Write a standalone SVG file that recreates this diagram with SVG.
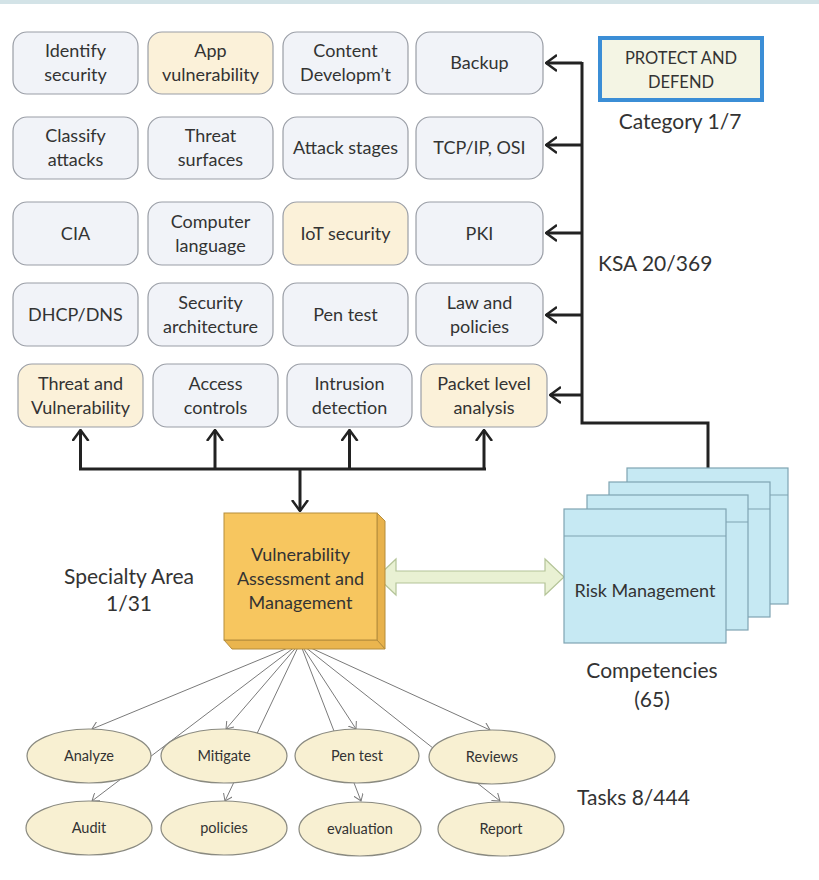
<svg xmlns="http://www.w3.org/2000/svg" width="819" height="880" viewBox="0 0 819 880">
<style>
text{font-family:Lato,"Open Sans","Liberation Sans",sans-serif;fill:#333;text-anchor:middle}
.b{font-size:18px}
.box{fill:#f1f3f8;stroke:#9a9ea6;stroke-width:1.2}
.ybox{fill:#fbf1d9;stroke:#9a9ea6;stroke-width:1.2}
.thick{fill:none;stroke:#222;stroke-width:3}
.thin{fill:none;stroke:#7a7a7a;stroke-width:1}
.ell{fill:#f8f0d2;stroke:#8a8a80;stroke-width:1.2}
.t{font-size:14.5px}
.lab{font-size:21px;fill:#333}
.card{fill:#c6e9f3;stroke:#7fa4b2;stroke-width:1.2}
</style>
<defs>
<marker id="ah" viewBox="0 0 12 18" refX="11" refY="9" markerWidth="12" markerHeight="18" orient="auto" markerUnits="userSpaceOnUse">
<path d="M0,1 L11,9 L0,17" fill="none" stroke="#222" stroke-width="2.5"/>
</marker>
<marker id="sh" viewBox="0 0 8 10" refX="7" refY="5" markerWidth="8" markerHeight="10" orient="auto" markerUnits="userSpaceOnUse">
<path d="M0,0 L7,5 L0,10" fill="none" stroke="#7a7a7a" stroke-width="1"/>
</marker>
</defs>
<rect x="0" y="0" width="819" height="4" fill="#d3e3e7"/>

<g id="n-identify"><rect class="box" x="13" y="32" width="125" height="62" rx="14"/><text class="b" x="75.5" y="57">Identify</text><text class="b" x="75.5" y="81">security</text></g>
<g id="n-app"><rect class="ybox" x="148" y="32" width="125" height="62" rx="14"/><text class="b" x="210.5" y="57">App</text><text class="b" x="210.5" y="81">vulnerability</text></g>
<g id="n-content"><rect class="box" x="283" y="32" width="125" height="62" rx="14"/><text class="b" x="345.5" y="57">Content</text><text class="b" x="345.5" y="81">Developm’t</text></g>
<g id="n-backup"><rect class="box" x="416" y="32" width="127" height="62" rx="14"/><text class="b" x="479.5" y="69">Backup</text></g>

<g id="n-classify"><rect class="box" x="13" y="117" width="125" height="62" rx="14"/><text class="b" x="75.5" y="142">Classify</text><text class="b" x="75.5" y="166">attacks</text></g>
<g id="n-threat"><rect class="box" x="148" y="117" width="125" height="62" rx="14"/><text class="b" x="210.5" y="142">Threat</text><text class="b" x="210.5" y="166">surfaces</text></g>
<g id="n-attack"><rect class="box" x="283" y="117" width="125" height="62" rx="14"/><text class="b" x="345.5" y="154">Attack stages</text></g>
<g id="n-tcp"><rect class="box" x="416" y="117" width="127" height="62" rx="14"/><text class="b" x="479.5" y="154">TCP/IP, OSI</text></g>

<g id="n-cia"><rect class="box" x="13" y="202" width="125" height="63" rx="14"/><text class="b" x="75.5" y="240">CIA</text></g>
<g id="n-lang"><rect class="box" x="148" y="202" width="125" height="63" rx="14"/><text class="b" x="210.5" y="228">Computer</text><text class="b" x="210.5" y="252">language</text></g>
<g id="n-iot"><rect class="ybox" x="283" y="202" width="125" height="63" rx="14"/><text class="b" x="345.5" y="240">IoT security</text></g>
<g id="n-pki"><rect class="box" x="416" y="202" width="127" height="63" rx="14"/><text class="b" x="479.5" y="240">PKI</text></g>

<g id="n-dhcp"><rect class="box" x="13" y="283" width="125" height="63" rx="14"/><text class="b" x="75.5" y="321">DHCP/DNS</text></g>
<g id="n-secarch"><rect class="box" x="148" y="283" width="125" height="63" rx="14"/><text class="b" x="210.5" y="309">Security</text><text class="b" x="210.5" y="333">architecture</text></g>
<g id="n-pen"><rect class="box" x="283" y="283" width="125" height="63" rx="14"/><text class="b" x="345.5" y="321">Pen test</text></g>
<g id="n-law"><rect class="box" x="416" y="283" width="127" height="63" rx="14"/><text class="b" x="479.5" y="309">Law and</text><text class="b" x="479.5" y="333">policies</text></g>

<g id="n-tv"><rect class="ybox" x="18" y="364" width="125" height="63" rx="14"/><text class="b" x="80.5" y="390">Threat and</text><text class="b" x="80.5" y="414">Vulnerability</text></g>
<g id="n-access"><rect class="box" x="153" y="364" width="125" height="63" rx="14"/><text class="b" x="215.5" y="390">Access</text><text class="b" x="215.5" y="414">controls</text></g>
<g id="n-intrusion"><rect class="box" x="287" y="364" width="125" height="63" rx="14"/><text class="b" x="349.5" y="390">Intrusion</text><text class="b" x="349.5" y="414">detection</text></g>
<g id="n-packet"><rect class="ybox" x="421" y="364" width="126" height="63" rx="14"/><text class="b" x="484" y="390">Packet level</text><text class="b" x="484" y="414">analysis</text></g>

<g id="n-protect"><rect x="600" y="38" width="162" height="62" fill="#f4f5e4" stroke="#3b8ed6" stroke-width="4"/><text x="681" y="64" style="font-size:16.5px">PROTECT AND</text><text x="681" y="88" style="font-size:16.5px">DEFEND</text></g>

<g id="connectors">
<path class="thick" d="M582,62 V423 H708 V468"/>
<line class="thick" x1="582" y1="63" x2="546" y2="63" marker-end="url(#ah)"/>
<line class="thick" x1="582" y1="145" x2="546" y2="145" marker-end="url(#ah)"/>
<line class="thick" x1="582" y1="233" x2="546" y2="233" marker-end="url(#ah)"/>
<line class="thick" x1="582" y1="315" x2="546" y2="315" marker-end="url(#ah)"/>
<line class="thick" x1="582" y1="395" x2="550" y2="395" marker-end="url(#ah)"/>
<path class="thick" d="M79,469 H486"/>
<line class="thick" x1="80.5" y1="469" x2="80.5" y2="430" marker-end="url(#ah)"/>
<line class="thick" x1="215" y1="469" x2="215" y2="430" marker-end="url(#ah)"/>
<line class="thick" x1="349.5" y1="469" x2="349.5" y2="430" marker-end="url(#ah)"/>
<line class="thick" x1="484" y1="469" x2="484" y2="430" marker-end="url(#ah)"/>
<line class="thick" x1="300" y1="469" x2="300" y2="511" marker-end="url(#ah)"/>
<line class="thin" x1="300" y1="643" x2="92" y2="729" marker-end="url(#sh)"/>
<line class="thin" x1="300" y1="643" x2="92" y2="801" marker-end="url(#sh)"/>
<line class="thin" x1="300" y1="643" x2="226" y2="729" marker-end="url(#sh)"/>
<line class="thin" x1="300" y1="643" x2="225" y2="801" marker-end="url(#sh)"/>
<line class="thin" x1="300" y1="643" x2="356" y2="729" marker-end="url(#sh)"/>
<line class="thin" x1="300" y1="643" x2="361" y2="801" marker-end="url(#sh)"/>
<line class="thin" x1="300" y1="643" x2="490" y2="730" marker-end="url(#sh)"/>
<line class="thin" x1="300" y1="643" x2="500" y2="801" marker-end="url(#sh)"/>
<polygon points="377,577 396,559 396,571 545,571 545,559 564,577 545,595 545,583 396,583 396,595" fill="#e9f1d3" stroke="#b4c498" stroke-width="1.2"/>
</g>

<g id="n-vam">
<polygon points="377,513 385,521 385,649 377,640" fill="#e8b24c" stroke="#b58d3c" stroke-width="1"/>
<polygon points="224,640 377,640 385,649 232,649" fill="#eab54e" stroke="#b58d3c" stroke-width="1"/>
<rect x="224" y="513" width="153" height="127" fill="#f7c65f" stroke="#b58d3c" stroke-width="1"/>
<text x="300.5" y="561" style="font-size:18px">Vulnerability</text>
<text x="300.5" y="585" style="font-size:18px">Assessment and</text>
<text x="300.5" y="609" style="font-size:18px">Management</text>
</g>

<g id="n-risk">
<rect class="card" x="627" y="468" width="161" height="136"/><line class="card" x1="627" y1="495" x2="788" y2="495"/>
<rect class="card" x="609" y="482" width="161" height="135"/><line class="card" x1="609" y1="509" x2="770" y2="509"/>
<rect class="card" x="587" y="495" width="161" height="135"/><line class="card" x1="587" y1="522" x2="748" y2="522"/>
<rect class="card" x="564" y="509" width="162" height="134"/><line class="card" x1="564" y1="536" x2="726" y2="536"/>
<text x="645" y="597" style="font-size:18px">Risk Management</text>
</g>

<g id="n-analyze"><ellipse class="ell" cx="89" cy="756" rx="62" ry="27"/><text class="t" x="89" y="761">Analyze</text></g>
<g id="n-mitigate"><ellipse class="ell" cx="224" cy="756" rx="63" ry="27"/><text class="t" x="224" y="761">Mitigate</text></g>
<g id="n-pentest"><ellipse class="ell" cx="357" cy="756" rx="62" ry="27"/><text class="t" x="357" y="761">Pen test</text></g>
<g id="n-reviews"><ellipse class="ell" cx="492" cy="757" rx="63" ry="27"/><text class="t" x="492" y="762">Reviews</text></g>
<g id="n-audit"><ellipse class="ell" cx="89" cy="828" rx="63" ry="27"/><text class="t" x="89" y="833">Audit</text></g>
<g id="n-policies"><ellipse class="ell" cx="224" cy="828" rx="63" ry="27"/><text class="t" x="224" y="833">policies</text></g>
<g id="n-evaluation"><ellipse class="ell" cx="360" cy="829" rx="61" ry="27"/><text class="t" x="360" y="834">evaluation</text></g>
<g id="n-report"><ellipse class="ell" cx="501" cy="829" rx="63" ry="27"/><text class="t" x="501" y="834">Report</text></g>

<g id="labels">
<text class="lab" x="680" y="129">Category 1/7</text>
<text class="lab" x="598" y="271" style="text-anchor:start">KSA 20/369</text>
<text class="lab" x="129" y="584">Specialty Area</text>
<text class="lab" x="129" y="611">1/31</text>
<text class="lab" x="652" y="678">Competencies</text>
<text class="lab" x="652" y="707">(65)</text>
<text class="lab" x="577" y="805" style="text-anchor:start">Tasks 8/444</text>
</g>
</svg>
